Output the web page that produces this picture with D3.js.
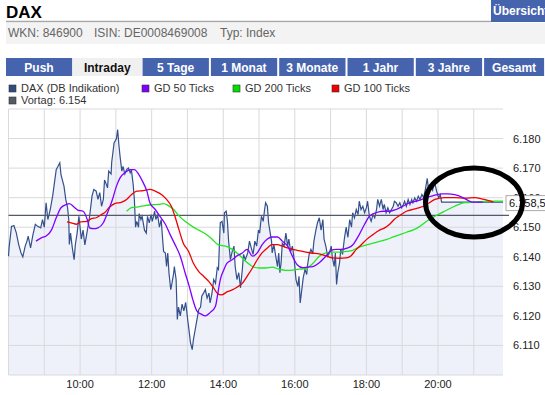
<!DOCTYPE html>
<html lang="de">
<head>
<meta charset="UTF-8">
<title>DAX Intraday</title>
<style>
body{margin:0;background:#fff;font-family:"Liberation Sans",Arial,sans-serif;}
svg{display:block;}
.tab text{font-size:12px;font-weight:bold;text-anchor:middle;}
.legend text{font-size:11px;fill:#333;}
.ylab{font-size:11px;fill:#222;}
.xlab{font-size:11px;fill:#222;text-anchor:middle;}
</style>
</head>
<body>
<script src="https://cdn.jsdelivr.net/npm/d3@7"></script>
<script>
// [minutes after 08:00, points]
var daxTicks = [[0,6140.2],[1,6143.1],[5,6150.3],[9,6150.6],[13,6148.2],[17,6144.2],[21,6141.3],[24,6140.0],[28,6143.6],[31,6145.3],[33,6147.0],[37,6143.0],[41,6147.5],[45,6151.0],[49,6150.3],[54,6149.8],[57,6152.6],[60,6150.0],[63,6158.3],[66,6152.6],[70,6156.0],[74,6160.5],[77,6165.0],[80,6169.5],[83,6170.6],[86,6171.8],[88,6167.8],[93,6163.9],[96,6159.4],[99,6156.6],[101,6152.6],[102,6144.2],[104,6148.0],[107,6143.0],[110,6139.0],[112,6144.0],[115,6148.0],[118,6153.7],[120,6150.0],[122,6146.0],[125,6149.0],[128,6144.0],[131,6147.5],[133,6150.0],[136,6153.7],[140,6160.5],[143,6162.8],[147,6162.2],[150,6159.4],[153,6161.7],[156,6157.1],[159,6159.4],[161,6166.0],[164,6164.5],[166,6163.3],[168,6169.0],[172,6168.0],[173,6172.0],[175,6175.2],[177,6178.5],[181,6180.0],[183,6183.0],[185,6178.0],[187,6174.0],[190,6169.0],[192,6170.6],[195,6168.0],[198,6169.5],[201,6170.0],[204,6168.4],[206,6169.5],[209,6164.5],[211,6159.4],[213,6150.0],[215,6152.0],[218,6150.0],[219,6154.6],[222,6152.6],[224,6153.7],[228,6149.0],[231,6148.0],[233,6153.7],[236,6151.5],[239,6154.3],[241,6152.0],[245,6155.4],[247,6152.6],[250,6154.3],[253,6150.0],[256,6152.6],[258,6147.0],[260,6141.8],[263,6141.3],[265,6136.7],[267,6141.3],[269,6134.6],[272,6128.9],[274,6131.0],[277,6134.6],[278,6136.7],[281,6132.3],[283,6118.8],[285,6123.0],[288,6120.0],[291,6124.0],[294,6121.7],[297,6124.6],[301,6117.8],[303,6114.5],[305,6111.0],[308,6108.6],[310,6112.0],[313,6115.4],[316,6118.8],[319,6122.2],[322,6123.0],[324,6126.7],[327,6127.7],[330,6128.9],[333,6126.0],[336,6127.7],[338,6124.4],[341,6127.5],[344,6132.3],[347,6131.0],[350,6136.3],[352,6135.7],[355,6151.5],[358,6152.0],[361,6148.0],[362,6154.9],[365,6155.4],[367,6152.0],[369,6145.3],[372,6139.0],[375,6141.8],[378,6143.6],[380,6136.7],[383,6132.3],[386,6134.6],[389,6129.5],[392,6135.7],[394,6140.8],[397,6139.0],[401,6141.3],[404,6145.3],[407,6143.0],[410,6140.8],[413,6145.3],[416,6143.6],[419,6149.0],[421,6148.0],[424,6153.7],[427,6152.0],[429,6155.4],[431,6158.3],[434,6157.1],[436,6151.5],[438,6149.0],[441,6145.3],[442,6141.3],[445,6144.0],[448,6140.2],[451,6136.7],[453,6141.3],[455,6134.6],[457,6138.0],[459,6144.6],[462,6143.6],[465,6148.0],[468,6143.6],[470,6146.0],[473,6141.8],[476,6143.6],[479,6139.0],[482,6132.3],[485,6130.0],[487,6133.4],[489,6124.4],[491,6127.7],[494,6132.8],[497,6135.7],[500,6134.0],[501,6136.7],[504,6140.8],[507,6142.5],[510,6141.0],[512,6145.3],[515,6148.7],[518,6151.5],[521,6153.2],[524,6149.0],[527,6152.6],[529,6146.0],[532,6143.6],[535,6140.2],[538,6141.3],[541,6143.6],[543,6139.6],[546,6136.7],[548,6141.3],[550,6130.6],[552,6134.6],[555,6138.0],[557,6142.5],[560,6140.8],[563,6146.0],[566,6150.0],[569,6146.6],[572,6152.6],[575,6150.0],[577,6154.9],[580,6153.2],[583,6156.0],[586,6154.3],[588,6158.8],[591,6156.0],[594,6157.1],[597,6154.9],[600,6156.6],[602,6158.8],[605,6153.7],[608,6152.0],[611,6154.3],[614,6153.2],[617,6156.0],[619,6159.4],[622,6157.1],[625,6159.4],[628,6156.0],[630,6157.7],[633,6154.9],[636,6156.6],[639,6154.9],[642,6156.0],[645,6157.1],[647,6158.8],[650,6158.3],[653,6157.1],[656,6158.3],[659,6156.6],[662,6157.7],[664,6158.8],[667,6157.1],[670,6159.4],[673,6157.7],[676,6159.4],[678,6158.3],[681,6159.9],[684,6158.8],[687,6160.5],[690,6159.4],[693,6161.1],[696,6160.0],[699,6163.0],[702,6166.5],[704,6163.0],[708,6164.0],[711,6162.5],[714,6165.5],[718,6162.0],[721,6160.0],[724,6161.0],[726,6158.5],[829,6158.5]];

var gd50 = [[46,6145.3],[55,6146.4],[63,6147.0],[72,6149.0],[80,6153.2],[88,6156.6],[97,6157.7],[102,6158.0],[111,6156.6],[116,6155.8],[125,6155.4],[132,6152.6],[136,6149.8],[142,6149.5],[150,6149.8],[159,6151.5],[167,6155.4],[174,6159.2],[181,6163.9],[187,6166.7],[195,6168.4],[204,6169.5],[211,6169.5],[218,6168.0],[226,6165.0],[232,6162.2],[237,6158.3],[246,6156.0],[254,6153.7],[263,6151.0],[271,6147.5],[279,6144.2],[288,6140.2],[296,6134.6],[303,6130.0],[309,6125.5],[316,6121.6],[324,6120.5],[330,6120.0],[338,6121.1],[347,6123.3],[351,6127.7],[355,6132.2],[361,6135.6],[366,6137.8],[375,6139.0],[383,6140.3],[392,6141.3],[400,6142.5],[409,6140.2],[417,6141.3],[425,6144.0],[434,6146.0],[442,6146.7],[451,6146.7],[459,6145.3],[468,6143.6],[476,6140.2],[484,6137.3],[493,6136.3],[501,6136.5],[510,6136.7],[521,6138.0],[532,6140.2],[541,6142.2],[549,6142.5],[557,6142.5],[569,6143.0],[577,6144.0],[588,6147.5],[597,6151.0],[605,6153.7],[616,6154.9],[628,6155.4],[639,6155.4],[650,6156.0],[661,6157.1],[673,6158.3],[684,6158.8],[695,6159.6],[709,6160.5],[726,6161.3],[737,6161.3],[748,6161.0],[760,6160.2],[771,6159.0],[777,6158.5],[795,6158.5]];

var gd200 = [[198,6155.4],[206,6156.6],[218,6156.9],[229,6157.3],[240,6157.6],[251,6157.7],[260,6158.0],[268,6157.3],[277,6156.0],[285,6154.0],[296,6152.0],[308,6150.3],[319,6149.0],[330,6147.8],[341,6146.0],[352,6144.0],[364,6143.6],[375,6142.5],[386,6140.8],[397,6138.6],[409,6136.7],[420,6136.2],[431,6136.2],[442,6136.5],[453,6135.8],[465,6135.4],[476,6135.5],[487,6135.8],[498,6136.0],[510,6137.7],[521,6140.2],[532,6141.3],[543,6141.6],[555,6141.6],[566,6141.8],[577,6142.2],[588,6143.3],[600,6144.0],[611,6144.6],[622,6145.2],[633,6145.8],[645,6146.7],[656,6147.5],[667,6148.3],[678,6149.0],[689,6150.2],[701,6152.0],[715,6153.7],[731,6155.4],[748,6157.1],[765,6158.3],[782,6158.5],[805,6158.8],[829,6158.8]];

var gd100 = [[98,6151.8],[105,6151.5],[114,6151.0],[121,6151.8],[131,6152.0],[139,6152.9],[147,6153.2],[156,6154.3],[161,6154.9],[170,6156.9],[178,6158.0],[190,6158.5],[198,6159.4],[206,6161.0],[215,6162.2],[226,6162.4],[237,6162.8],[246,6162.2],[257,6161.0],[265,6159.4],[273,6157.1],[279,6153.7],[286,6149.0],[293,6144.6],[302,6141.8],[310,6137.8],[319,6135.0],[327,6133.4],[336,6131.6],[344,6129.4],[350,6127.7],[357,6127.1],[367,6128.2],[375,6128.8],[383,6129.7],[392,6131.0],[400,6133.4],[409,6136.2],[417,6139.0],[425,6141.3],[434,6143.0],[442,6144.1],[451,6144.1],[459,6143.6],[468,6143.0],[476,6142.5],[484,6142.2],[493,6141.8],[501,6141.5],[510,6141.2],[521,6141.0],[532,6140.3],[543,6139.6],[555,6139.5],[566,6139.6],[574,6140.3],[583,6142.5],[591,6144.0],[600,6145.8],[611,6147.5],[622,6149.0],[630,6149.7],[639,6151.0],[647,6152.7],[656,6154.0],[667,6155.4],[678,6156.0],[689,6156.6],[701,6157.7],[715,6159.4],[731,6160.0],[748,6160.0],[765,6159.8],[782,6160.0],[793,6159.6],[805,6159.0],[813,6158.5]];

var vortag = 6154;
var lastValue = 6158.5;
var tabs = ["Push","Intraday","5 Tage","1 Monat","3 Monate","1 Jahr","3 Jahre","Gesamt"];
var activeTab = "Intraday";
var legendItems = [
	{name:"DAX (DB Indikation)", color:"#2f4c82"},
	{name:"GD 50 Ticks", color:"#7f00ff"},
	{name:"GD 200 Ticks", color:"#00e000"},
	{name:"GD 100 Ticks", color:"#f00000"}
];
var yTicks = [6110,6120,6130,6140,6150,6160,6170,6180];
var yGrid = [6100,6110,6120,6130,6140,6150,6160,6170,6180,6190];
var xLabelHours = [10,12,14,16,18,20];

var de = d3.formatLocale({decimal:",", thousands:".", grouping:[3], currency:["","€"]});
var fmtInt = de.format(",.0f"), fmtOne = de.format(",.1f");

var W = 545, H = 395;
var blue = "#4664ad";
var svg = d3.select("body").append("svg").attr("width",W).attr("height",H);

// Kopfbereich
svg.append("text").attr("x",6).attr("y",18)
	.style("font-size","17px").style("font-weight","bold").text("DAX");
svg.append("line").attr("x1",6).attr("x2",491).attr("y1",21.5).attr("y2",21.5)
	.attr("stroke","#a8a8a8").attr("stroke-width",1.5);
svg.append("rect").attr("x",491).attr("y",0).attr("width",60).attr("height",22).attr("fill",blue);
svg.append("text").attr("x",493).attr("y",15).attr("fill","#fff")
	.style("font-size","12px").style("font-weight","bold").text("Übersicht");
svg.append("rect").attr("x",6).attr("y",23).attr("width",539).attr("height",21).attr("fill","#f3f3f3");
var info = [["WKN: 846900",8],["ISIN: DE0008469008",94],["Typ: Index",220]];
svg.selectAll(".info").data(info).enter().append("text")
	.attr("x",function(d){return d[1];}).attr("y",37)
	.attr("fill","#666").style("font-size","12px")
	.text(function(d){return d[0];});

// Reiter
var tabStep = 68.3;
var tab = svg.selectAll(".tab").data(tabs).enter().append("g").attr("class","tab")
	.attr("transform",function(d,i){return "translate("+(6+i*tabStep)+",58)";});
tab.append("rect")
	.attr("x",function(d){return d==activeTab?-2:0;})
	.attr("width",function(d,i){return d==activeTab?70.3:(i==tabs.length-1?60:66.3);})
	.attr("height",18)
	.attr("fill",function(d){return d==activeTab?"#f0f0f0":blue;});
tab.append("text")
	.attr("x",function(d,i){return i==tabs.length-1?30:33;}).attr("y",14)
	.attr("fill",function(d){return d==activeTab?"#111":"#fff";})
	.text(function(d){return d;});

// Legende
var legX = [9,142,233,332];
var leg = svg.selectAll(".legend").data(legendItems).enter().append("g").attr("class","legend")
	.attr("transform",function(d,i){return "translate("+legX[i]+",85)";});
leg.append("rect").attr("width",7).attr("height",7)
	.attr("fill",function(d){return d.color;}).attr("stroke","#333").attr("stroke-width",0.6);
leg.append("text").attr("x",12).attr("y",7).text(function(d){return d.name;});
var leg2 = svg.append("g").attr("class","legend").attr("transform","translate(9,97)");
leg2.append("rect").attr("width",7).attr("height",7).attr("fill","#555a66").attr("stroke","#333").attr("stroke-width",0.6);
leg2.append("text").attr("x",12).attr("y",7).text("Vortag: "+fmtInt(vortag));

// Skalen
var t0 = new Date(2013,5,14,8,0);
function tm(m){return d3.timeMinute.offset(t0,m);}
var x = d3.scaleTime().domain([t0, tm(829)]).range([8.5,503]);
var y = d3.scaleLinear().domain([6100,6190]).range([375,109]);
var plotL = 8.5, plotR = 503;

var area = d3.area()
	.x(function(d){return x(tm(d[0]));})
	.y0(y(6100))
	.y1(function(d){return y(d[1]);});
var line = d3.line()
	.x(function(d){return x(tm(d[0]));})
	.y(function(d){return y(d[1]);});
var smooth = d3.line()
	.curve(d3.curveMonotoneX)
	.x(function(d){return x(tm(d[0]));})
	.y(function(d){return y(d[1]);});

svg.append("path").datum(daxTicks).attr("d",area).attr("fill","#eef1f9");

// Gitter
svg.selectAll(".hg").data(yGrid).enter().append("line")
	.attr("x1",plotL).attr("x2",plotR)
	.attr("y1",function(d){return y(d);}).attr("y2",function(d){return y(d);})
	.attr("stroke","#d9d9de").attr("stroke-width",1);
svg.selectAll(".vg").data(d3.timeHour.range(t0, tm(829))).enter().append("line")
	.attr("x1",function(d){return x(d);}).attr("x2",function(d){return x(d);})
	.attr("y1",y(6190)).attr("y2",y(6100))
	.attr("stroke","#d9d9de").attr("stroke-width",1);

// Achsenbeschriftung
svg.selectAll(".ylab").data(yTicks).enter().append("text").attr("class","ylab")
	.attr("x",513).attr("y",function(d){return y(d);}).attr("dy","0.36em")
	.text(function(d){return fmtInt(d);});
svg.selectAll(".xlab").data(xLabelHours).enter().append("text").attr("class","xlab")
	.attr("x",function(d){return x(tm((d-8)*60));}).attr("y",388)
	.text(function(d){return d3.timeFormat("%H:%M")(tm((d-8)*60));});

// Kurse
svg.append("path").datum(daxTicks).attr("d",line)
	.attr("fill","none").attr("stroke","#34508c").attr("stroke-width",1.2);
svg.append("line").attr("x1",plotL).attr("x2",509)
	.attr("y1",y(vortag)).attr("y2",y(vortag))
	.attr("stroke","#555a6a").attr("stroke-width",1.2);
svg.append("path").datum(gd200).attr("d",smooth)
	.attr("fill","none").attr("stroke","#22e622").attr("stroke-width",1.3);
svg.append("path").datum(gd100).attr("d",smooth)
	.attr("fill","none").attr("stroke","#f00000").attr("stroke-width",1.3);
svg.append("path").datum(gd50).attr("d",smooth)
	.attr("fill","none").attr("stroke","#8000ff").attr("stroke-width",1.3);

// letzter Kurs
var ly = y(lastValue);
svg.append("rect").attr("x",506).attr("y",ly-6.5).attr("width",45).attr("height",15)
	.attr("fill","#fff").attr("stroke","#aaa");
svg.append("text").attr("x",509).attr("y",ly+5).style("font-size","11px").attr("fill","#111")
	.text(fmtOne(lastValue));

// Markierung
svg.append("ellipse").attr("cx",474).attr("cy",202.5).attr("rx",48.5).attr("ry",34.5)
	.attr("fill","none").attr("stroke","#000").attr("stroke-width",5);
</script>
</body>
</html>
